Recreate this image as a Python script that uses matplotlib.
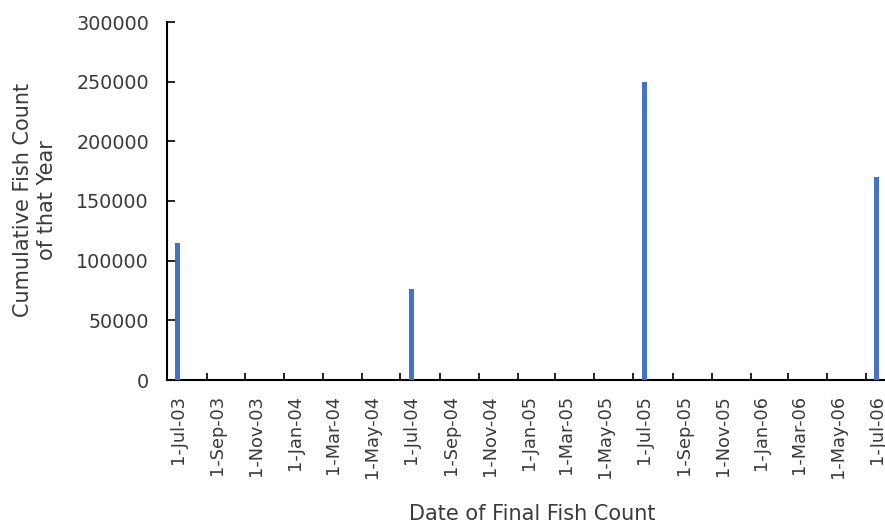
import matplotlib
matplotlib.use("Agg")
import matplotlib.pyplot as plt
import datetime as dt

# Data
bar_dates = ["2003-07-01", "2004-07-01", "2005-07-01", "2006-07-01"]
bar_values = [115000, 76000, 250000, 170000]
label_dates = ["2003-07-01", "2003-09-01", "2003-11-01", "2004-01-01", "2004-03-01", "2004-05-01",
               "2004-07-01", "2004-09-01", "2004-11-01", "2005-01-01", "2005-03-01", "2005-05-01",
               "2005-07-01", "2005-09-01", "2005-11-01", "2006-01-01", "2006-03-01", "2006-05-01",
               "2006-07-01"]
label_texts = ["1-Jul-03", "1-Sep-03", "1-Nov-03", "1-Jan-04", "1-Mar-04", "1-May-04",
               "1-Jul-04", "1-Sep-04", "1-Nov-04", "1-Jan-05", "1-Mar-05", "1-May-05",
               "1-Jul-05", "1-Sep-05", "1-Nov-05", "1-Jan-06", "1-Mar-06", "1-May-06",
               "1-Jul-06"]
y_ticks = [0, 50000, 100000, 150000, 200000, 250000, 300000]

plt.rcParams['font.family'] = ['DejaVu Sans']
text_color = '#3a3a3a'

fig = plt.figure(figsize=(8.85, 5.25), dpi=100)
W, H = 885, 525
ax = fig.add_axes([167 / W, 1 - 380 / H, (885 - 167) / W, 358 / H])

bd = [dt.datetime.strptime(d, "%Y-%m-%d") for d in bar_dates]
ld = [dt.datetime.strptime(d, "%Y-%m-%d") for d in label_dates]
ax.bar(bd, bar_values, width=8, color='#4472C4', align='center', zorder=3)

# tick marks (offset from label positions, Excel-style)
offset = dt.timedelta(days=17)
tick_pos = [d - offset for d in ld]
ax.set_xticks(tick_pos)
ax.set_xticklabels([])
ax.tick_params(axis='x', which='major', direction='in', length=5, width=1.2, color='#000000')
ax.set_xticks(ld, minor=True)
ax.set_xticklabels(label_texts, minor=True, rotation=90, fontsize=12.8, color=text_color)
ax.tick_params(axis='x', which='minor', length=0, pad=11)

x0 = tick_pos[0]
x_end = x0 + dt.timedelta(days=(885 - 167) / ((876 - 177) / 1096))
ax.set_xlim(x0, x_end)

ax.set_ylim(0, 300000)
ax.set_yticks(y_ticks)
ax.set_yticklabels([str(v) for v in y_ticks], fontsize=13.8, color=text_color)
ax.tick_params(axis='y', direction='in', length=6, width=1.2, pad=13)

for s in ['top', 'right']:
    ax.spines[s].set_visible(False)
for s in ['left', 'bottom']:
    ax.spines[s].set_color('#000000')
    ax.spines[s].set_linewidth(1.5)

fig.text(35 / W, 1 - 200 / H, "Cumulative Fish Count\nof that Year", rotation=90,
         ha='center', va='center', fontsize=15, color=text_color, linespacing=1.3)
fig.text(532 / W, 1 - 514 / H, "Date of Final Fish Count", ha='center', va='center',
         fontsize=15, color=text_color)

fig.savefig("out.png", dpi=100)
